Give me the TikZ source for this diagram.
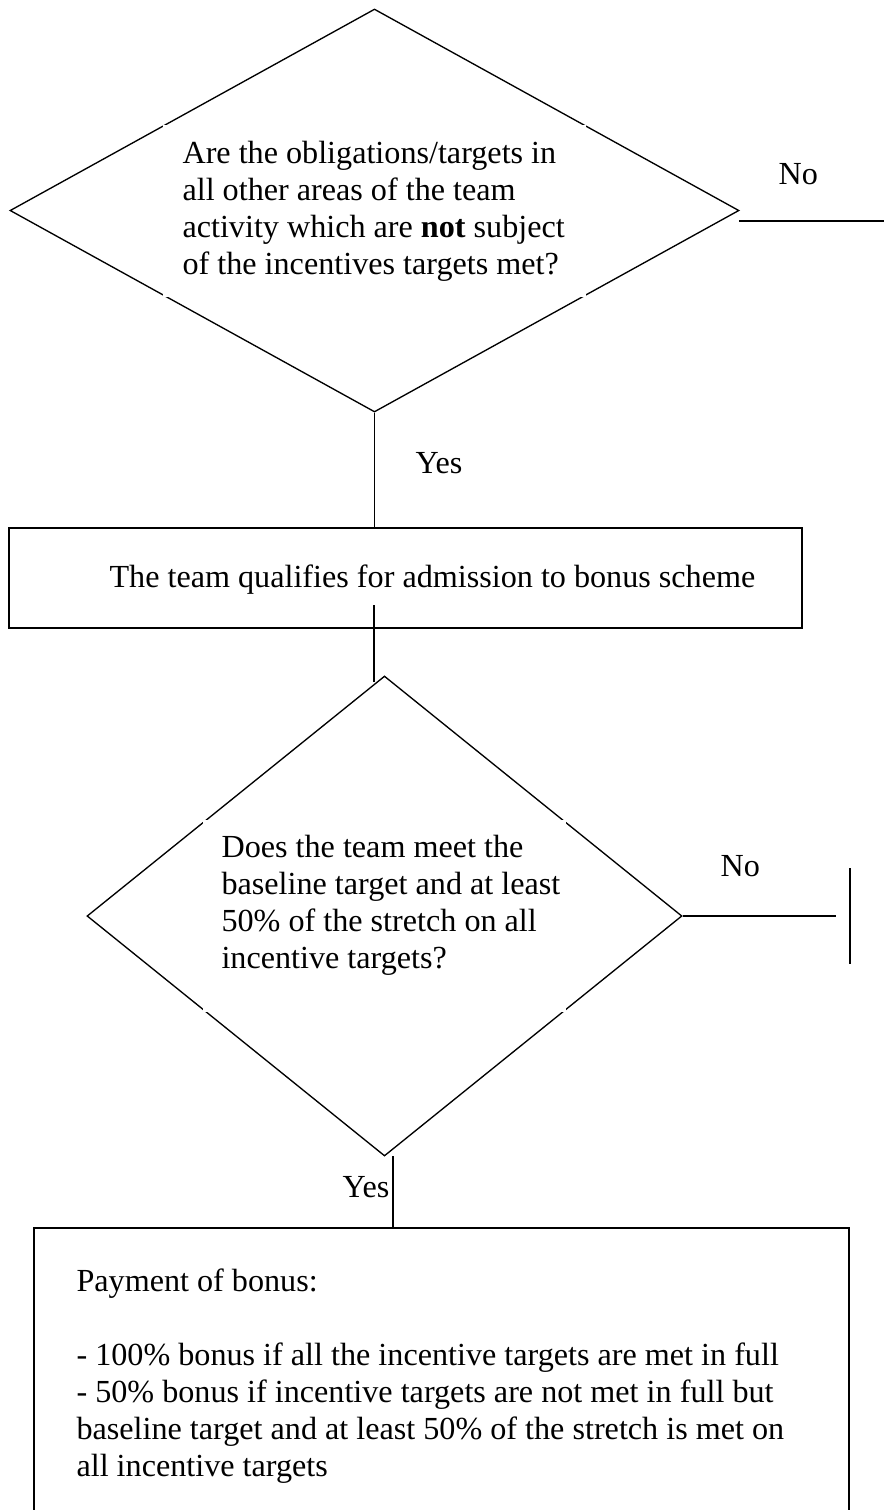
\documentclass[tikz,border=0pt]{standalone}
\usepackage{fontspec}
\setmainfont{Liberation Serif}
\usetikzlibrary{shapes.geometric}
\begin{document}
\begin{tikzpicture}[x=0.3731pt,y=-0.3731pt,
  dec/.style={draw, diamond, inner sep=0pt, line width=0.5pt},
  boxs/.style={draw, rectangle, inner sep=0pt},
  txt/.style={inner sep=0pt, font=\fontsize{12pt}{13.8pt}\selectfont, align=left},
  conn/.style={line width=0.5pt}]
\useasboundingbox (0,0) rectangle (884,1510);
\clip (0,0) rectangle (884,1510);
\fill[white] (0,0) rectangle (884,1510);

% shapes
\node[dec, minimum width=729*0.3731pt, minimum height=403*0.3731pt] (d1) at (374.5,210.5) {};
\node[dec, minimum width=595*0.3731pt, minimum height=480*0.3731pt] (d2) at (384.5,916) {};
\node[boxs, line width=0.75pt, minimum width=793*0.3731pt, minimum height=100*0.3731pt] (b1) at (405.5,578) {};
\node[boxs, line width=0.6pt, minimum width=815*0.3731pt, minimum height=340*0.3731pt] (b2) at (441.5,1398) {};

% white text frames (cause the small breaks in the diamond edges)
\fill[white] (163,124.5) rectangle (586,296.5);
\fill[white] (203,820) rectangle (566,1012);

% texts
\node[txt, anchor=north west] (t1) at (182,141) {Are the obligations/targets in\\all other areas of the team\\activity which are \textbf{not} subject\\of the incentives targets met?};
\node[txt, anchor=north west] (t2) at (221,835) {Does the team meet the\\baseline target and at least\\50\% of the stretch on all\\incentive targets?};
\node[txt, anchor=base west] (t3) at (109,587) {The team qualifies for admission to bonus scheme};
\node[txt, anchor=north west] (t4) at (76,1268) {Payment of bonus:\\[13.8pt]- 100\% bonus if all the incentive targets are met in full\\- 50\% bonus if incentive targets are not met in full but\\baseline target and at least 50\% of the stretch is met on\\all incentive targets};

% labels
\node[txt, anchor=base west] (yes1) at (415,473) {Yes};
\node[txt, anchor=base east] (yes2) at (390,1197) {Yes};
\node[txt, anchor=base west] (no1) at (778,184) {No};
\node[txt, anchor=base west] (no2) at (720,876) {No};

% connectors
\draw[conn] (d1.south) -- (d1.south |- b1.north);
\coordinate (c1) at (374,605);
\coordinate (c2) at (374,682);
\draw[conn] (c1) -- (c2);
\coordinate (c3) at (393,1156);
\draw[conn] (c3) -- (c3 |- b2.north);
\coordinate (c4) at (739,221);
\coordinate (c5) at (884,221);
\draw[conn] (c4) -- (c5);
\coordinate (c6) at (836,916);
\draw[conn] (d2.east) -- (c6);
\coordinate (c7) at (850,868);
\coordinate (c8) at (850,964);
\draw[line width=0.7pt] (c7) -- (c8);
\end{tikzpicture}
\end{document}
